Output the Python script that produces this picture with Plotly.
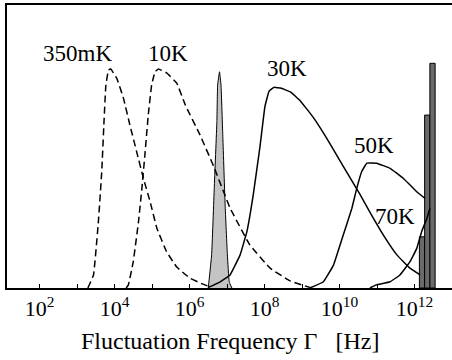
import plotly.graph_objects as go

# Frequencies are stored as log10(Gamma / Hz); amplitudes are in arbitrary units.
x_350mk = [3.29, 3.44, 3.57, 3.66, 3.72, 3.77, 3.84, 3.90, 4.06, 4.24, 4.41, 4.59,
           4.77, 4.95, 5.13, 5.39, 5.66, 6.01, 6.28, 6.55]
y_350mk = [0.0, 0.046, 0.234, 0.411, 0.588, 0.717, 0.770, 0.774, 0.741, 0.670, 0.576,
           0.482, 0.388, 0.305, 0.211, 0.128, 0.074, 0.035, 0.018, 0.004]

x_10k = [4.31, 4.37, 4.50, 4.64, 4.73, 4.81, 4.90, 4.99, 5.08, 5.17, 5.39, 5.66,
         5.89, 6.28, 6.65, 7.08, 7.61, 8.15, 8.68, 9.21]
y_10k = [0.0, 0.011, 0.093, 0.234, 0.352, 0.470, 0.611, 0.717, 0.764, 0.774, 0.760,
         0.724, 0.646, 0.541, 0.428, 0.283, 0.152, 0.070, 0.025, 0.002]

x_ref = [6.50, 6.59, 6.66, 6.73, 6.75, 6.80, 6.84, 6.89, 6.95, 7.01, 7.06, 7.13]
y_ref = [0.0, 0.117, 0.353, 0.588, 0.717, 0.764, 0.717, 0.529, 0.293, 0.117, 0.022, 0.0]

x_30k = [6.50, 6.81, 7.08, 7.35, 7.53, 7.70, 7.88, 8.01, 8.12, 8.25, 8.45, 8.70, 8.95,
         9.30, 9.66, 10.01, 10.28, 10.55, 10.81, 11.17, 11.53, 11.88, 12.15]
y_30k = [0.002, 0.021, 0.046, 0.117, 0.199, 0.329, 0.500, 0.640, 0.695, 0.709, 0.706,
         0.692, 0.662, 0.603, 0.529, 0.450, 0.390, 0.330, 0.268, 0.187, 0.117, 0.070, 0.046]

x_50k = [9.21, 9.57, 9.84, 10.10, 10.33, 10.46, 10.59, 10.73, 10.99, 11.35, 11.70,
         12.06, 12.28]
y_50k = [0.0, 0.022, 0.081, 0.187, 0.282, 0.352, 0.411, 0.441, 0.441, 0.423, 0.388,
         0.340, 0.317]

x_70k = [10.81, 10.98, 11.35, 11.61, 11.88, 12.06, 12.19, 12.33, 12.41]
y_70k = [0.0, 0.011, 0.022, 0.046, 0.093, 0.140, 0.199, 0.246, 0.282]

bar_x = [12.20, 12.34, 12.48]
bar_h = [0.181, 0.611, 0.794]
bar_w = 0.14

labels = ["350mK", "10K", "30K", "50K", "70K"]
label_x = [3.01, 5.43, 8.61, 10.92, 11.48]
label_y = [0.829, 0.829, 0.776, 0.504, 0.254]

tick_vals = [2, 4, 6, 8, 10, 12]
tick_text = [f"10<sup>{v}</sup>" for v in tick_vals]

FONT = "Liberation Serif"

fig = go.Figure()

# grey filled reference spike
fig.add_trace(go.Scatter(x=x_ref, y=y_ref, mode="lines", fill="toself",
                         fillcolor="#c4c4c4", line=dict(color="black", width=1,
                         shape="spline", smoothing=0.3)))

for xs, ys, dash in [(x_350mk, y_350mk, "7px,4px"), (x_10k, y_10k, "7px,4px"),
                     (x_30k, y_30k, "solid"), (x_50k, y_50k, "solid"),
                     (x_70k, y_70k, "solid")]:
    fig.add_trace(go.Scatter(x=xs, y=ys, mode="lines",
                             line=dict(color="black", width=1.5, dash=dash,
                                       shape="spline", smoothing=0.25)))

fig.add_trace(go.Bar(x=bar_x, y=bar_h, width=bar_w, marker=dict(
    color="#6a6a6a", line=dict(color="black", width=1))))

for t, lx, ly in zip(labels, label_x, label_y):
    fig.add_annotation(x=lx, y=ly, text=t, showarrow=False, yanchor="middle",
                       font=dict(family=FONT, size=23, color="black"))

fig.add_annotation(x=0.501, y=-0.189, xref="paper", yref="paper",
                   xanchor="center", yanchor="middle",
                   text="Fluctuation Frequency \u0393&nbsp;&nbsp; [Hz]", showarrow=False,
                   font=dict(family=FONT, size=24, color="black"))

fig.update_layout(
    width=452, height=360, margin=dict(l=7, r=0, t=5, b=72),
    paper_bgcolor="white", plot_bgcolor="white", showlegend=False,
    font=dict(family=FONT, color="black"),
    xaxis=dict(range=[1.1333, 13.0], tickvals=tick_vals, ticktext=tick_text,
               ticks="inside", ticklen=4, tickwidth=1, tickcolor="black",
               ticklabelstandoff=0,
               minor=dict(dtick=1, tick0=0, ticks="inside", ticklen=4,
                          tickwidth=1, tickcolor="black", showgrid=False),
               showline=True, linewidth=2, linecolor="black", mirror=True,
               showgrid=False, zeroline=False,
               tickfont=dict(family=FONT, size=22, color="black")),
    yaxis=dict(range=[0, 1.0], showticklabels=False, ticks="", showgrid=False,
               zeroline=False, showline=True, linewidth=2, linecolor="black"),
)

fig.write_html("out.html")
